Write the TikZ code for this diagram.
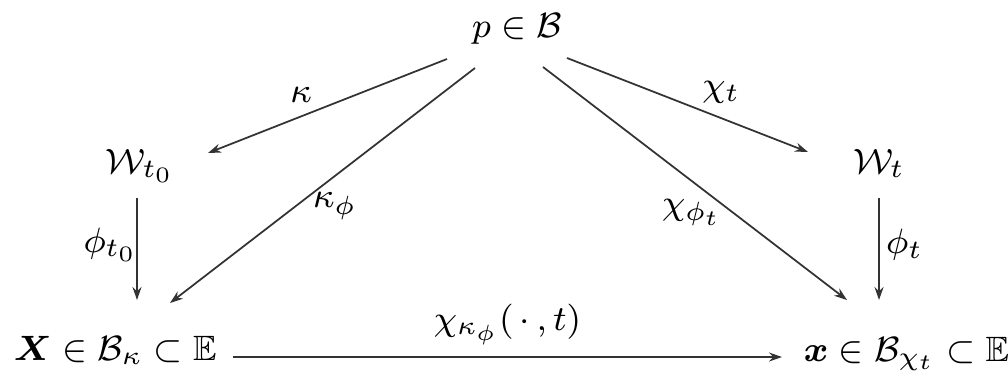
\documentclass[tikz,border=0pt]{standalone}
\usepackage{amsmath,amssymb,bm}
\usetikzlibrary{arrows.meta,calc}
\begin{document}
\begin{tikzpicture}[x=0.2pt,y=-0.2pt,
  lbl/.style={inner sep=0pt,font=\fontsize{8}{9.6}\selectfont,scale=0.88},
  obj/.style={inner sep=0pt,font=\fontsize{8}{9.6}\selectfont,scale=0.88},
  arr/.style={draw=black!80,line width=0.35pt,-{Stealth[length=2.6pt,width=1.8pt]}}]
\useasboundingbox (0,0) rectangle (1008,388);
\node[obj,anchor=base] (p) at (517,37) {$p\in\mathcal{B}$};
\node[obj,anchor=base] (W0) at (140,173) {$\mathcal{W}_{t_0}$};
\node[obj,anchor=base] (Wt) at (879,173) {$\mathcal{W}_t$};
\node[obj,anchor=base west] (X) at (13,360) {$\bm{X}\in\mathcal{B}_\kappa\subset\mathbb{E}$};
\node[obj,anchor=base west] (x) at (803,361) {$\bm{x}\in\mathcal{B}_{\chi_t}\subset\mathbb{E}$};
% kappa
\draw[arr] ($(p.base)+(-70,22)$) -- ($(W0.base)+(68,-20)$)
  node[lbl,pos=0.61,shift={(0,-24)}] {$\kappa$};
% kappa_phi
\draw[arr] ($(p.base)+(-42,31)$) -- ($(X.base west)+(157,-57)$)
  node[lbl,pos=0.46,shift={(0,34)}] {$\kappa_\phi$};
% chi_t
\draw[arr] ($(p.base)+(50,21)$) -- ($(Wt.base)+(-71,-21)$)
  node[lbl,pos=0.64,shift={(0,-29)}] {$\chi_t$};
% chi_phi_t
\draw[arr] ($(p.base)+(26,30)$) -- ($(x.base west)+(44,-61)$)
  node[lbl,pos=0.49,shift={(0,36)}] {$\chi_{\phi_t}$};
% phi_t0
\draw[arr] ($(W0.base)+(-3,25)$) -- ($(X.base west)+(124,-60)$)
  node[lbl,pos=0.46,shift={(-30,0)}] {$\phi_{t_0}$};
% phi_t
\draw[arr] ($(Wt.base)+(0,25)$) -- ($(x.base west)+(76,-61)$)
  node[lbl,pos=0.46,shift={(29,0)}] {$\phi_t$};
% horizontal
\draw[arr] ($(X.base west)+(220,-3)$) -- ($(x.base west)+(-21,-4)$)
  node[lbl,pos=0.5,shift={(0,-37)}] {$\chi_{\kappa_\phi}(\,\cdot\,,t)$};
\end{tikzpicture}
\end{document}
